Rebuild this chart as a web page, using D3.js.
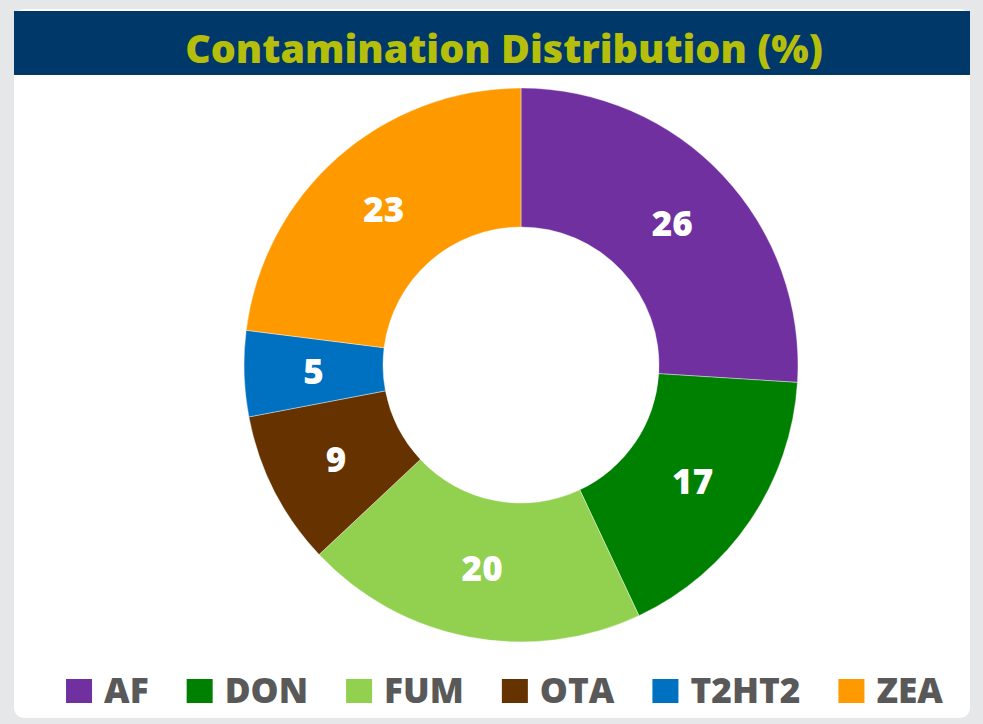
<!DOCTYPE html>
<html>
<head>
<meta charset="utf-8">
<script src="https://cdn.jsdelivr.net/npm/d3@7"></script>
<style>
  html, body { margin: 0; padding: 0; background: #e6e7e9; }
  svg { display: block; font-family: "Open Sans", "Lato", sans-serif; }
</style>
</head>
<body>
<div id="chart"></div>
<script>
// Chart data
var categories = ["AF", "DON", "FUM", "OTA", "T2HT2", "ZEA"];
var shares = [26, 17, 20, 9, 5, 23];
var sliceColors = ["#7030a0", "#008000", "#92d050", "#663300", "#0070c0", "#ff9900"];
var chartTitle = "Contamination Distribution (%)";

var fullWidth = 983, fullHeight = 724;

var svg = d3.select("#chart").append("svg")
    .attr("width", fullWidth)
    .attr("height", fullHeight);

// Card and title bar
svg.append("rect")
    .attr("x", 14).attr("y", 9)
    .attr("width", 956).attr("height", 709)
    .attr("rx", 10)
    .attr("fill", "#ffffff");

svg.append("rect")
    .attr("x", 14).attr("y", 11)
    .attr("width", 956).attr("height", 64)
    .attr("fill", "#01386a");

// Shrink/grow a text node so it spans the wanted width
function fitText(sel, targetWidth, startSize) {
    sel.style("font-size", startSize + "px");
    var w = sel.node().getComputedTextLength();
    sel.style("font-size", (startSize * targetWidth / w) + "px");
}

var title = svg.append("text")
    .attr("x", 504)
    .attr("y", 63)
    .attr("text-anchor", "middle")
    .style("font-weight", 800)
    .style("fill", "#b5bf0b")
    .text(chartTitle);
fitText(title, 638, 38);

// Donut
var cx = 521, cy = 365;
var outerR = 277, innerR = 138;

var pie = d3.pie().sort(null).value(function(d) { return d; });
var arc = d3.arc().innerRadius(innerR).outerRadius(outerR);

var g = svg.append("g").attr("transform", "translate(" + cx + "," + cy + ")");

var arcs = pie(shares);

g.selectAll("path")
    .data(arcs)
    .enter().append("path")
    .attr("d", arc)
    .attr("fill", function(d, i) { return sliceColors[i]; })
    .attr("stroke", "#ffffff")
    .attr("stroke-width", 0.4);

g.selectAll("text.value")
    .data(arcs)
    .enter().append("text")
    .attr("class", "value")
    .attr("transform", function(d) { return "translate(" + arc.centroid(d) + ")"; })
    .attr("text-anchor", "middle")
    .attr("dy", "0.36em")
    .style("font-size", "35px")
    .style("font-weight", 800)
    .style("fill", "#ffffff")
    .text(function(d) { return d.data; });

// LEGEND ----------------------------------------------
var legend = svg.append("g").attr("class", "legend");
var boxW = 26, boxH = 24, boxGap = 12, itemGap = 38;

// pick a font size so the labels together take about the same room as the original
var probe = legend.append("text")
    .style("font-size", "37px").style("font-weight", 800)
    .text(categories.join(""));
var legendFont = 37 * 459 / probe.node().getComputedTextLength();
probe.remove();

var offset = 0;
categories.forEach(function(name, i) {
    var item = legend.append("g");
    item.append("rect")
        .attr("x", offset)
        .attr("y", 679)
        .attr("width", boxW)
        .attr("height", boxH)
        .attr("fill", sliceColors[i]);
    var t = item.append("text")
        .attr("x", offset + boxW + boxGap)
        .attr("y", 703)
        .style("font-size", legendFont + "px")
        .style("font-weight", 800)
        .style("fill", "#595959")
        .text(name);
    offset += boxW + boxGap + t.node().getComputedTextLength() + itemGap;
});

var legendWidth = offset - itemGap;
legend.attr("transform", "translate(" + (504.5 - legendWidth / 2) + ",0)");
</script>
</body>
</html>
